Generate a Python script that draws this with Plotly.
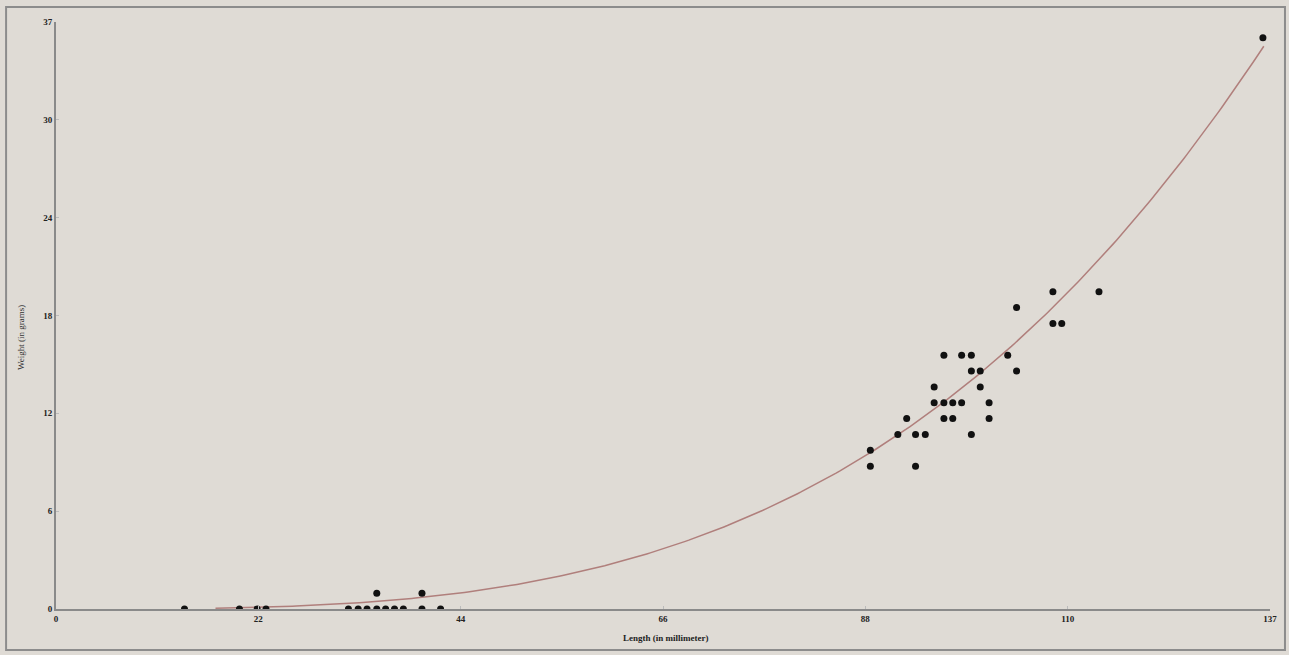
import plotly.graph_objects as go
import numpy as np

# Data (length in mm, weight in g)
length_mm = [14.5, 20.7, 22.7, 23.7, 33.0, 34.1, 35.1, 36.2, 36.2, 37.2, 38.2, 39.2, 41.3, 41.3, 43.4,
             91.9, 91.9, 95.0, 96.0, 97.0, 97.0, 98.1, 99.1, 99.1, 100.2, 100.2, 100.2, 101.2, 101.2,
             102.2, 102.2, 103.3, 103.3, 103.3, 104.3, 104.3, 105.3, 105.3, 107.4, 108.4, 108.4,
             112.5, 112.5, 113.5, 117.7, 136.2]
weight_g = [0, 0, 0, 0, 0, 0, 0, 0, 1, 0, 0, 0, 0, 1, 0,
            10, 9, 11, 12, 11, 9, 11, 14, 13, 16, 13, 12, 13, 12,
            16, 13, 16, 15, 11, 15, 14, 13, 12, 16, 19, 15,
            20, 18, 18, 20, 36]

# Fitted length-weight relation W = a * L^b
fit_a = 4.10e-6
fit_b = 3.25
fit_start = 18.0
fit_end = 136.3

x_ticks = [0, 137/6, 2*137/6, 3*137/6, 4*137/6, 5*137/6, 137]
x_ticktext = ["0", "22", "44", "66", "88", "110", "137"]
y_ticks = [0, 37/6, 2*37/6, 3*37/6, 4*37/6, 5*37/6, 37]
y_ticktext = ["0", "6", "12", "18", "24", "30", "37"]

BG = "#dfdbd5"
AXIS = "#8a8a8a"
FONT = "Liberation Serif"

curve_x = np.linspace(fit_start, fit_end, 300)
curve_y = fit_a * curve_x ** fit_b

fig = go.Figure()
fig.add_trace(go.Scatter(x=curve_x, y=curve_y, mode="lines",
                         line=dict(color="#b07f7c", width=1.5), hoverinfo="skip", showlegend=False))
fig.add_trace(go.Scatter(x=length_mm, y=weight_g, mode="markers",
                         marker=dict(color="#111111", size=7), showlegend=False))

W, H = 1289, 655
L, R, T, B = 56, 17, 22, 46
pw, ph = W - L - R, H - T - B

def px(xp):
    return (xp - L) / pw

def py(yp):
    return (H - B - yp) / ph

fig.update_layout(
    width=W, height=H,
    margin=dict(l=L, r=R, t=T, b=B, pad=0),
    paper_bgcolor=BG, plot_bgcolor=BG,
    font=dict(family=FONT, size=9, color="#222222"),
    xaxis=dict(range=[0, 137], tickvals=x_ticks, ticktext=x_ticktext, showgrid=False, zeroline=False,
               showline=True, linecolor=AXIS, linewidth=2, ticks="inside", ticklen=3, tickcolor="#bbbbbb",
               tickfont=dict(family=FONT, size=9, color="#222222", weight="bold")),
    yaxis=dict(range=[0, 37], tickvals=y_ticks, ticktext=y_ticktext, showgrid=False, zeroline=False,
               showline=True, linecolor=AXIS, linewidth=2, ticks="inside", ticklen=3, tickcolor="#bbbbbb",
               tickfont=dict(family=FONT, size=9, color="#222222", weight="bold")),
    shapes=[dict(type="rect", xref="paper", yref="paper",
                 x0=px(6), x1=px(1287), y0=py(650), y1=py(7),
                 line=dict(color="#8c8c8c", width=2), layer="below")],
    annotations=[
        dict(text="Length (in millimeter)", xref="paper", yref="paper", x=px(667), y=py(638),
             xanchor="center", yanchor="middle", showarrow=False,
             font=dict(family=FONT, size=9, color="#222222", weight="bold")),
        dict(text="Weight (in grams)", xref="paper", yref="paper", x=px(21), y=py(338),
             xanchor="center", yanchor="middle", showarrow=False, textangle=-90,
             font=dict(family=FONT, size=9, color="#333333")),
    ],
)

fig.write_html("out.html",
               config={"displayModeBar": False},
               post_script="document.body.style.margin='0';document.body.style.overflow='hidden';"
                           "document.body.style.background='" + BG + "';")
